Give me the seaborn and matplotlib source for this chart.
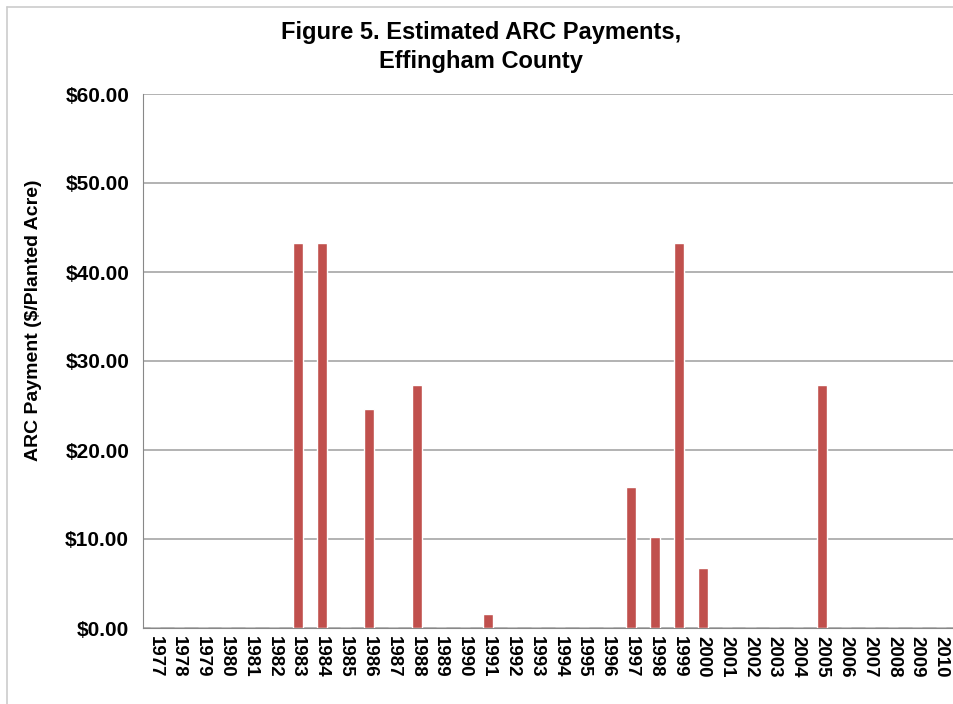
import numpy as np
import pandas as pd
import matplotlib
matplotlib.use('Agg')
import matplotlib.pyplot as plt
from matplotlib.ticker import FixedLocator, NullFormatter
import seaborn as sns

years = [str(y) for y in range(1977, 2011)]
payment = [0, 0, 0, 0, 0, 0, 43.25, 43.25, 0, 24.6, 0, 27.3, 0, 0,
           1.6, 0, 0, 0, 0, 0, 15.8, 10.2, 43.25, 6.7, 0, 0, 0, 0,
           27.3, 0, 0, 0, 0, 0]
y_ticks = [0, 10, 20, 30, 40, 50, 60]

TITLE = 'Figure 5. Estimated ARC Payments,\nEffingham County'
YLABEL = 'ARC Payment ($/Planted Acre)'
BAR_COLOR = '#c0504d'
GRID = '#a6a6a6'

sns.set_style('white')
plt.rcParams['font.family'] = ['Liberation Sans', 'DejaVu Sans']
plt.rcParams['font.weight'] = 'bold'
plt.rcParams['text.color'] = 'black'
plt.rcParams['xtick.color'] = 'black'
plt.rcParams['ytick.color'] = 'black'
plt.rcParams['axes.labelcolor'] = 'black'

data = pd.DataFrame({'Year': years, 'Payment': payment})

fig = plt.figure(figsize=(9.54, 7.04), dpi=100)
ax = fig.add_axes([143 / 954, 1 - 628 / 704, (953 - 143) / 954, (628 - 94) / 704])

sns.barplot(data=data, x='Year', y='Payment', color=BAR_COLOR,
            width=0.42, saturation=1, ax=ax, zorder=3)

ax.set_ylim(0, 60)
ax.set_xlim(-0.5, len(years) - 0.5)
ax.set_yticks(y_ticks)
ax.set_yticklabels(['${:.2f}'.format(v) for v in y_ticks], fontsize=15, fontweight='bold')
ax.yaxis.grid(True, color=GRID, linewidth=1.2, zorder=0)
ax.set_axisbelow(True)

# excel style ticks between categories
ax.set_xticks(range(len(years)))
ax.set_xticklabels(years, rotation=270, fontsize=13.5, fontweight='bold')
ax.tick_params(axis='x', which='major', length=0, pad=6)
ax.xaxis.set_minor_locator(FixedLocator(np.arange(-0.5, len(years), 1)))
ax.xaxis.set_minor_formatter(NullFormatter())
ax.tick_params(axis='x', which='minor', length=5, color='#888888', width=1)
ax.tick_params(axis='y', length=6, color='#888888', width=1, pad=4)

ax.set_xlabel('')
ax.set_ylabel(YLABEL, fontsize=14, fontweight='bold')
ax.yaxis.set_label_coords(-0.125, 0.577)

for side in ['top', 'right']:
    ax.spines[side].set_visible(False)
ax.spines['left'].set_color('#888888')
ax.spines['bottom'].set_color('#888888')

fig.text(481 / 954, 1 - 47 / 704, TITLE, ha='center', va='center',
         fontsize=17, fontweight='bold', linespacing=1.3)

# outer frame
fig.add_artist(plt.Line2D([7 / 954, 7 / 954], [0, 1 - 7 / 704], color='#cccccc', lw=1.2))
fig.add_artist(plt.Line2D([7 / 954, 1], [1 - 7 / 704, 1 - 7 / 704], color='#cccccc', lw=1.2))

fig.savefig('out.png', dpi=100)
